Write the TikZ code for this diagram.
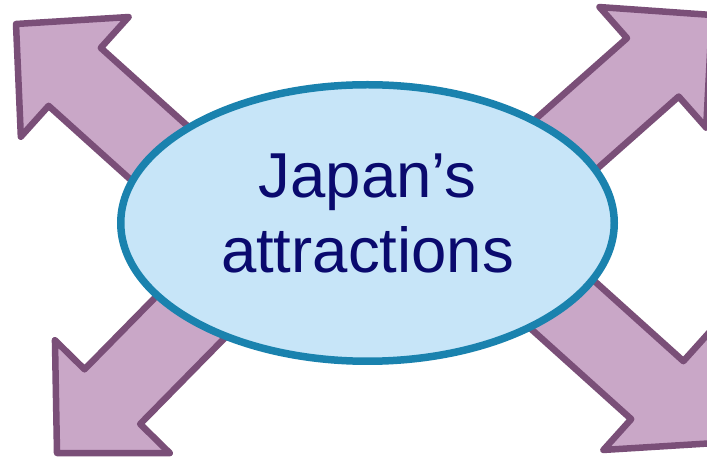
\documentclass[tikz,border=0pt]{standalone}
\usepackage{fontspec}
\setmainfont{Liberation Sans}
\usetikzlibrary{shapes.geometric}
\definecolor{arrowfill}{HTML}{C9A7C7}
\definecolor{arrowline}{HTML}{7A4F78}
\definecolor{hubfill}{HTML}{C7E5F8}
\definecolor{hubline}{HTML}{1A82AE}
\definecolor{hubtext}{HTML}{0A0A6E}
\tikzset{
  arrowshape/.style={fill=arrowfill, draw=arrowline, line width=6.5pt, line join=round},
  bigarrow/.pic={
    \draw[arrowshape] (0,0) -- (-79,80.5) -- (-79,39) -- (-249,39) -- (-249,-39)
      -- (-79,-39) -- (-79,-80.5) -- cycle;
  },
  hubstyle/.style={ellipse, fill=hubfill, draw=hubline, line width=7.5pt,
    minimum width=493.5pt, minimum height=276.5pt, inner sep=0pt},
  labelstyle/.style={text=hubtext, align=center, inner sep=0pt,
    font=\fontsize{63.5}{75}\selectfont}
}
\begin{document}
\begin{tikzpicture}[x=1pt,y=1pt]
  \useasboundingbox (0,0) rectangle (707,458);
  \clip (0,0) rectangle (707,458);
  \fill[white] (0,0) rectangle (707,458);
  % four arrows behind the ellipse
  \pic[rotate=138] at (16,434) {bigarrow};
  \pic[rotate=41.5] at (712,443) {bigarrow};
  \pic[rotate=225.5] at (57,5) {bigarrow};
  \pic[rotate=-42] at (716,15) {bigarrow};
  % central ellipse
  \node[hubstyle] (hub) at (367.5,235) {};
  \node[labelstyle] (label) at ([yshift=10pt]hub.center) {Japan’s\\attractions};
\end{tikzpicture}
\end{document}
